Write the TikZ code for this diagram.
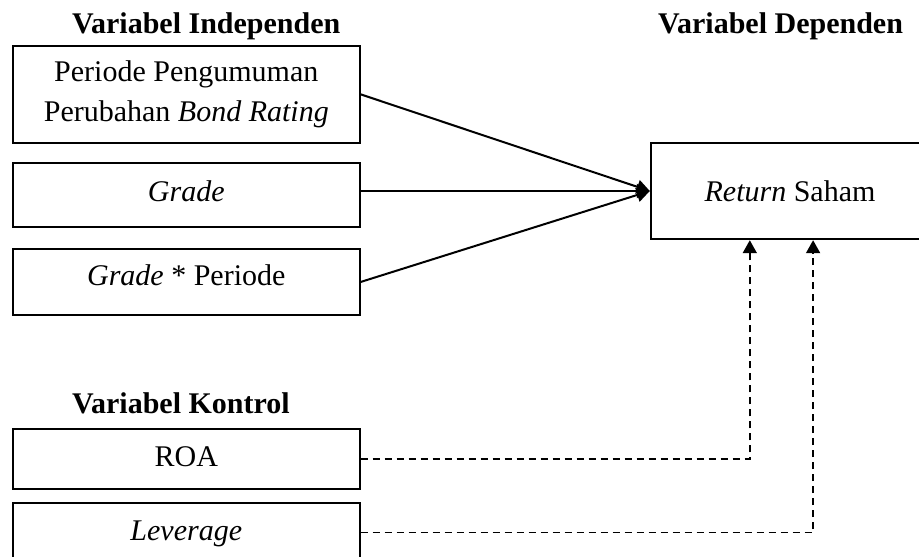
\documentclass[tikz,border=0pt]{standalone}
\usepackage{fontspec}
\setmainfont{Liberation Serif}
\usetikzlibrary{arrows.meta,calc}
\begin{document}
\begin{tikzpicture}[x=1pt,y=-1pt,
  box/.style={draw, line width=1.8pt, inner sep=0pt, minimum width=346.7pt, font=\fontsize{30}{40}\selectfont, align=center},
  title/.style={anchor=base west, inner sep=0pt, font=\fontsize{30}{36}\selectfont\bfseries},
  arr/.style={line width=2pt, -{Triangle[length=13pt,width=14pt]}},
  darr/.style={line width=1.8pt, dash pattern=on 7pt off 5pt, -{Triangle[length=13pt,width=14pt]}}
]
\useasboundingbox (0,0) rectangle (919,557);
\clip (0,0) rectangle (919,557);

\node[title] (tind) at (72,33) {Variabel Independen};
\node[title] (tdep) at (658,33) {Variabel Dependen};
\node[title] (tkon) at (72,413.3) {Variabel Kontrol};

\node[box, minimum height=96.7pt] (b1) at (186.3,94.3) {Periode Pengumuman\\Perubahan \textit{Bond Rating}};
\node[box, minimum height=64.6pt, text height=20pt, text depth=6.6pt] (b2) at (186.3,195) {\textit{Grade}};
\node[box, minimum height=65.4pt, text height=20pt, text depth=14pt] (b3) at (186.3,282) {\textit{Grade} * Periode};
\node[box, minimum height=59.7pt, text height=20pt, text depth=6.4pt] (roa) at (186.3,459.2) {ROA};
\node[box, minimum height=59.7pt, text height=20pt, text depth=5pt] (lev) at (186.3,532.5) {\textit{Leverage}};

\node[box, minimum width=278.6pt, minimum height=96.6pt, text height=26pt, text depth=4.6pt] (ret) at (790,191) {\textit{Return} Saham};

\draw[arr] (b1.east) -- (ret.west);
\draw[arr] (b2.east |- ret.west) -- (ret.west);
\draw[arr] (b3.east) -- (ret.west);

\draw[darr] (roa.east) -| ([xshift=100pt]ret.south west);
\draw[darr] (lev.east) -| ([xshift=163.3pt]ret.south west);
\end{tikzpicture}
\end{document}
